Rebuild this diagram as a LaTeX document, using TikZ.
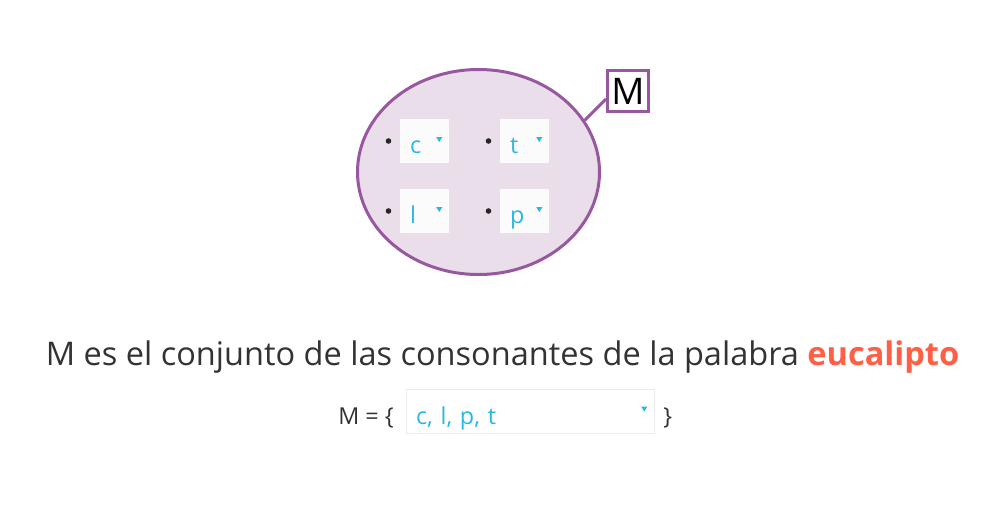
\documentclass[tikz,border=0pt]{standalone}
\usepackage{fontspec}
\setmainfont{Open Sans}
\usetikzlibrary{positioning,shapes.geometric}
\definecolor{setpurple}{RGB}{152,88,160}
\definecolor{setfill}{RGB}{234,222,235}
\definecolor{selcyan}{RGB}{43,183,227}
\definecolor{boxwhite}{RGB}{251,251,251}
\definecolor{txtgray}{RGB}{51,51,51}
\definecolor{wordred}{RGB}{255,95,69}

\begin{document}
\begin{tikzpicture}[x=0.75pt,y=-0.75pt,every node/.style={inner sep=0pt},
        letterbox/.style={fill=boxwhite,text=selcyan,align=left,text width=21.75pt,
                    inner xsep=7.5pt,text height=25.5pt,text depth=7.5pt,
                    font=\fontsize{17.5}{20}\selectfont},
        pics/dropdown/.style={code={\fill[selcyan] (-3,-2.3) -- (3,-2.3) -- (0,2.5) -- cycle;}}]
      \useasboundingbox (0,0) rectangle (1005,504);
      \node[ellipse,draw=setpurple,line width=2.25pt,fill=setfill,
            minimum width=181.5pt,minimum height=153.75pt] (setM) at (478.5,172) {};
      \node[draw=setpurple,line width=2.25pt,fill=white,minimum size=30.75pt,
            font=\fontsize{27.5}{28}\selectfont] (labelM) at (628,91) {M};
      \draw[setpurple,line width=2.25pt] (labelM.200) -- (setM.26);
      \foreach \n/\x/\y in {c/424.5/141,t/524.5/141,l/424.5/211,p/524.5/211}{
        \node[letterbox] (box\n) at (\x,\y) {\n};
        \fill[black!85] ([xshift=-27pt]box\n.center) circle (2.1pt);
        \pic at ([xshift=-7.5pt,yshift=1.1pt]box\n.east) {dropdown};
      }
      \node[anchor=base,text=txtgray,font=\fontsize{24.4}{28}\selectfont] (sentence) at (502.5,365)
        {M es el conjunto de las consonantes de la palabra \textbf{\textcolor{wordred}{eucalipto}}};
      \node[anchor=base west,text=txtgray,font=\fontsize{17.5}{20}\selectfont] (eqM) at (338,424) {M = \{};
      \node[letterbox,draw=black!8,fill=white,text width=171pt,text height=26.25pt,text depth=6.75pt]
        (answer) at (530,411) {c, l, p, t};
      \pic at ([xshift=-7.5pt,yshift=1.5pt]answer.east) {dropdown};
      \node[anchor=base west,text=txtgray,font=\fontsize{17.5}{20}\selectfont] (close) at (663,424) {\}};
    \end{tikzpicture}
\end{document}
